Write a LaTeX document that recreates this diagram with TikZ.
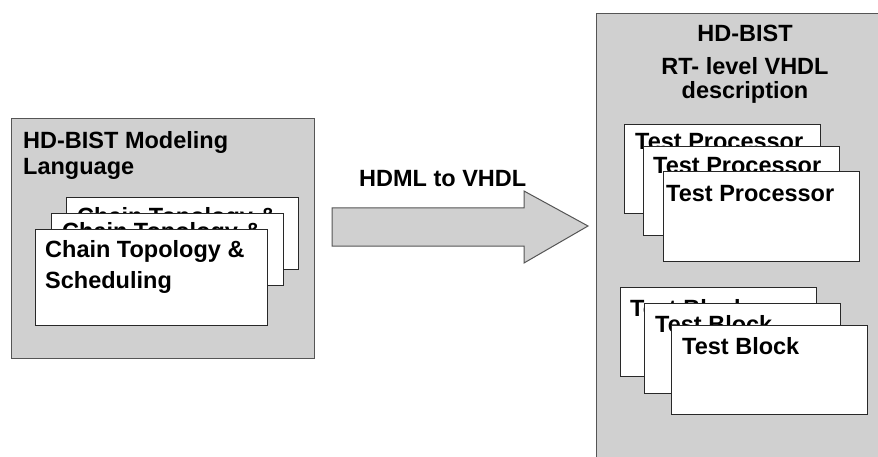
\documentclass[tikz,border=0pt]{standalone}
\usepackage{fontspec}
\setmainfont{Liberation Sans}
\definecolor{panelgray}{RGB}{208,208,208}
\definecolor{edgegray}{RGB}{85,85,85}
\definecolor{cardedge}{RGB}{40,40,40}
\begin{document}
\begin{tikzpicture}[x=1pt,y=-1pt,
  panel/.style={fill=panelgray, draw=edgegray, line width=1.3pt, inner sep=0pt, anchor=north west},
  card/.style={fill=white, draw=cardedge, line width=1pt, inner sep=0pt, anchor=north west},
  lbl/.style={font=\fontsize{23.5}{28}\selectfont\bfseries, inner sep=0pt, anchor=base west},
  clbl/.style={lbl, anchor=base},
  bigarrow/.style={fill=panelgray, draw=edgegray, line width=1pt, line join=miter}
]
\useasboundingbox (0,0) rectangle (878,457);
\fill[white] (0,0) rectangle (878,457);

% left panel
\node[panel, minimum width=303pt, minimum height=240pt] (leftpanel) at (11,118) {};
\node[lbl] (lt1) at (23,149) {HD-BIST Modeling};
\node[lbl] (lt2) at (23,175) {Language};

\node[card, minimum width=232pt, minimum height=72pt] (lc1) at (66,197) {};
\node[lbl] (lc1t) at (77,225) {Chain Topology \&};
\node[card, minimum width=232pt, minimum height=72pt] (lc2) at (51,213) {};
\node[lbl] (lc2t) at (62,240) {Chain Topology \&};
\node[card, minimum width=232pt, minimum height=96pt] (lc3) at (35,229) {};
\node[lbl] (lc3t) at (45,257) {Chain Topology \&};
\node[lbl] (lc3u) at (45,288) {Scheduling};

% right panel
\node[panel, minimum width=300pt, minimum height=470pt] (rightpanel) at (596,13) {};
\node[clbl] (rt1) at (745,42) {HD-BIST};
\node[clbl] (rt2) at (745,75) {RT- level VHDL};
\node[clbl] (rt3) at (745,99) {description};

\node[card, minimum width=196pt, minimum height=89pt] (tp1) at (624,124) {};
\node[lbl] (tp1t) at (635,150) {Test Processor};
\node[card, minimum width=196pt, minimum height=89pt] (tp2) at (643,146) {};
\node[lbl] (tp2t) at (653,174) {Test Processor};
\node[card, minimum width=196pt, minimum height=90pt] (tp3) at (663,171) {};
\node[lbl] (tp3t) at (666,202) {Test Processor};

\node[card, minimum width=196pt, minimum height=89pt] (tb1) at (620,287) {};
\node[lbl] (tb1t) at (630,316) {Test Block};
\node[card, minimum width=196pt, minimum height=90pt] (tb2) at (644,303) {};
\node[lbl] (tb2t) at (655,332) {Test Block};
\node[card, minimum width=196pt, minimum height=89pt] (tb3) at (671,325) {};
\node[lbl] (tb3t) at (682,354) {Test Block};

% big arrow
\coordinate (atail) at (332,227);
\coordinate (atip) at (588,226);
\draw[bigarrow] (332,208) -- (524,208) -- (524,191) -- (atip) -- (524,263) -- (524,246) -- (332,246) -- cycle;
\node[lbl] (arrlbl) at (359,187) {HDML to VHDL};
\end{tikzpicture}
\end{document}
